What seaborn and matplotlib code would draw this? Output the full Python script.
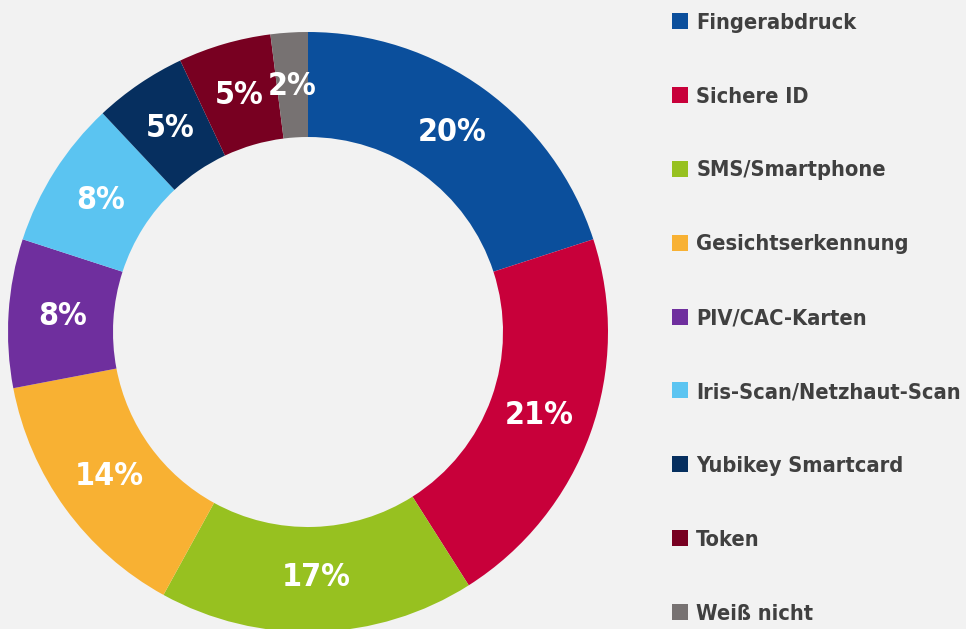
import matplotlib
matplotlib.use("Agg")
import matplotlib.pyplot as plt
import seaborn as sns

# ===== 数据 =====
categories = ["Fingerabdruck", "Sichere ID", "SMS/Smartphone", "Gesichtserkennung",
              "PIV/CAC-Karten", "Iris-Scan/Netzhaut-Scan", "Yubikey Smartcard",
              "Token", "Weiß nicht"]
values = [20, 21, 17, 14, 8, 8, 5, 5, 2]
colors = ["#0b4f9c", "#c8003a", "#97c120", "#f8b133", "#6f2f9e",
          "#5bc4f1", "#062f5f", "#780021", "#777272"]

sns.set_theme(style="white")
plt.rcParams["font.family"] = ["DejaVu Sans"]
plt.rcParams["font.stretch"] = "condensed"
bg = "#f2f2f2"

fig = plt.figure(figsize=(9.66, 6.29), dpi=100, facecolor=bg)
ax = fig.add_axes([0, 0, 1, 1], facecolor=bg)

wedges, _, autotexts = ax.pie(
    values, colors=colors, startangle=90, counterclock=False,
    center=(308, 297), radius=300, frame=True,
    wedgeprops=dict(width=105, edgecolor="none"),
    autopct=lambda p: f"{p:.0f}%", pctdistance=0.82,
    textprops=dict(color="white", fontsize=23, fontweight="bold",
                   fontstretch="condensed"),
)
ax.set_xlim(0, 966)
ax.set_ylim(0, 629)
ax.set_aspect("equal")
ax.axis("off")

# 图例
leg = ax.legend(wedges, categories, loc="upper left",
                bbox_to_anchor=(663 / 966, 1 - 4 / 629),
                frameon=False, handlelength=0.75, handleheight=0.75,
                handletextpad=0.37, labelspacing=2.47, borderaxespad=0,
                prop=dict(size=15.7, weight="bold", stretch="condensed"))
for t in leg.get_texts():
    t.set_color("#404040")

fig.savefig("out.png", dpi=100, facecolor=bg)
